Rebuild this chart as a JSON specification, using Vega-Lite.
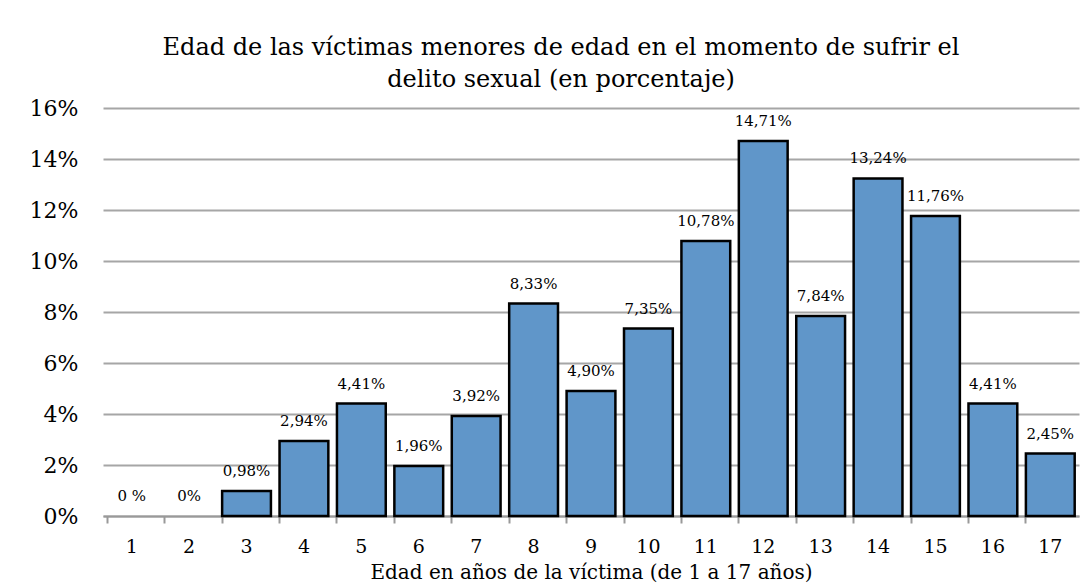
{
  "$schema": "https://vega.github.io/schema/vega-lite/v6.json",
  "width": 976,
  "height": 408,
  "autosize": "none",
  "padding": {"left": 103, "top": 108, "right": 5, "bottom": 72},
  "background": "white",
  "title": {
    "text": ["Edad de las víctimas menores de edad en el momento de sufrir el", "delito sexual (en porcentaje)"],
    "font": "DejaVu Serif",
    "fontSize": 24,
    "fontWeight": "normal",
    "color": "#000000",
    "lineHeight": 32,
    "anchor": "middle",
    "dx": -30,
    "offset": 5
  },
  "data": {
    "values": [
      {"edad": "1", "pct": 0, "label": "0 %"},
      {"edad": "2", "pct": 0, "label": "0%"},
      {"edad": "3", "pct": 0.98, "label": "0,98%"},
      {"edad": "4", "pct": 2.94, "label": "2,94%"},
      {"edad": "5", "pct": 4.41, "label": "4,41%"},
      {"edad": "6", "pct": 1.96, "label": "1,96%"},
      {"edad": "7", "pct": 3.92, "label": "3,92%"},
      {"edad": "8", "pct": 8.33, "label": "8,33%"},
      {"edad": "9", "pct": 4.90, "label": "4,90%"},
      {"edad": "10", "pct": 7.35, "label": "7,35%"},
      {"edad": "11", "pct": 10.78, "label": "10,78%"},
      {"edad": "12", "pct": 14.71, "label": "14,71%"},
      {"edad": "13", "pct": 7.84, "label": "7,84%"},
      {"edad": "14", "pct": 13.24, "label": "13,24%"},
      {"edad": "15", "pct": 11.76, "label": "11,76%"},
      {"edad": "16", "pct": 4.41, "label": "4,41%"},
      {"edad": "17", "pct": 2.45, "label": "2,45%"}
    ]
  },
  "encoding": {
    "x": {
      "field": "edad",
      "type": "ordinal",
      "sort": null,
      "scale": {
        "domain": ["1", "2", "3", "4", "5", "6", "7", "8", "9", "10", "11", "12", "13", "14", "15", "16", "17"],
        "paddingInner": 0.15,
        "paddingOuter": 0.075
      },
      "axis": {
        "title": "Edad en años de la víctima (de 1 a 17 años)",
        "titleFont": "DejaVu Serif",
        "titleFontSize": 20,
        "titleFontWeight": "normal",
        "titleColor": "#000000",
        "titlePadding": 6,
        "labelFont": "DejaVu Serif",
        "labelFontSize": 19,
        "labelColor": "#000000",
        "labelAngle": 0,
        "labelPadding": 14,
        "domainColor": "#999999",
        "domainWidth": 2,
        "tickColor": "#999999",
        "tickWidth": 2,
        "tickSize": 7,
        "bandPosition": 0,
        "grid": false
      }
    },
    "y": {
      "field": "pct",
      "type": "quantitative",
      "scale": {"domain": [0, 16], "nice": false},
      "axis": {
        "title": null,
        "values": [0, 2, 4, 6, 8, 10, 12, 14, 16],
        "labelExpr": "datum.value + '%'",
        "labelFont": "DejaVu Serif",
        "labelFontSize": 22,
        "labelColor": "#000000",
        "labelPadding": 25,
        "domain": false,
        "ticks": false,
        "grid": true,
        "gridColor": "#a6a6a6",
        "gridWidth": 2
      }
    }
  },
  "layer": [
    {
      "transform": [{"filter": "datum.pct > 0"}],
      "mark": {"type": "bar", "color": "#6096c9", "stroke": "#000000", "strokeWidth": 2.5}
    },
    {
      "mark": {"type": "text", "font": "DejaVu Serif", "fontSize": 15, "color": "#000000", "baseline": "bottom", "dy": -12},
      "encoding": {"text": {"field": "label"}}
    }
  ],
  "config": {"view": {"stroke": null}}
}
